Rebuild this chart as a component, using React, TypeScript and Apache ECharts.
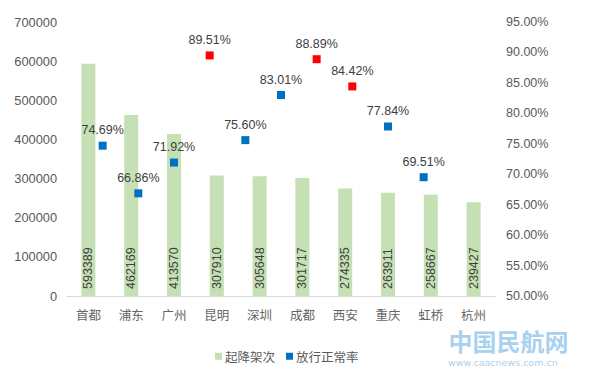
import React, { useEffect, useRef } from "react";
import * as echarts from "echarts";

const categories = ["首都", "浦东", "广州", "昆明", "深圳", "成都", "西安", "重庆", "虹桥", "杭州"];
const flights = [593389, 462169, 413570, 307910, 305648, 301717, 274335, 263911, 258667, 239427];
const punctuality = [74.69, 66.86, 71.92, 89.51, 75.6, 83.01, 88.89, 84.42, 77.84, 69.51];
const highlighted = [false, false, false, true, false, false, true, true, false, false];

const FONT = "'Liberation Sans', Arial, 'Noto Sans CJK SC', sans-serif";
const CJK = "'Noto Sans CJK SC', 'Liberation Sans', sans-serif";

export default function App() {
  const ref = useRef<HTMLDivElement>(null);
  useEffect(() => {
    document.body.style.margin = "0";
    const chart = echarts.init(ref.current!, null, { renderer: "svg" });
    chart.setOption({
      animation: false,
      backgroundColor: "#ffffff",
      grid: { left: 67, right: 95, top: 22, bottom: 77 },
      legend: {
        left: 210,
        top: 345,
        itemWidth: 7,
        itemHeight: 7,
        itemGap: 11,
        textStyle: { fontFamily: CJK, fontSize: 12.5, color: "#595959", padding: [0, 0, 0, -2] },
        data: [
          { name: "起降架次", icon: "rect", itemStyle: { color: "#c5e0b4" } },
          { name: "放行正常率", icon: "rect", itemStyle: { color: "#0070c0" } },
        ],
      },
      xAxis: [
        {
          type: "category",
          data: categories,
          axisLine: { lineStyle: { color: "#d9d9d9" } },
          axisTick: { show: false },
          axisLabel: { color: "#666666", fontFamily: CJK, fontSize: 12.5, margin: 12 },
        },
        {
          type: "value",
          min: 0,
          max: 12,
          show: false,
        },
      ],
      yAxis: [
        {
          type: "value",
          min: 0,
          max: 700000,
          interval: 100000,
          splitLine: { show: false },
          axisLine: { show: false },
          axisTick: { show: false },
          axisLabel: {
            color: "#595959",
            fontFamily: FONT,
            fontSize: 12.8,
            margin: 10,
            formatter: (v: number) => String(v),
          },
        },
        {
          type: "value",
          min: 50,
          max: 95,
          interval: 5,
          splitLine: { show: false },
          axisLine: { show: false },
          axisTick: { show: false },
          axisLabel: {
            color: "#595959",
            fontFamily: FONT,
            fontSize: 12.5,
            margin: 11,
            formatter: (v: number) => v.toFixed(2) + "%",
          },
        },
      ],
      series: [
        {
          name: "起降架次",
          type: "bar",
          xAxisIndex: 0,
          yAxisIndex: 0,
          barWidth: 14,
          data: flights,
          itemStyle: { color: "#c5e0b4" },
          label: {
            show: true,
            position: "insideBottom",
            rotate: 90,
            align: "left",
            verticalAlign: "middle",
            distance: 7,
            color: "#404040",
            fontFamily: FONT,
            fontSize: 12.5,
          },
        },
        {
          name: "放行正常率",
          type: "scatter",
          xAxisIndex: 1,
          yAxisIndex: 1,
          symbol: "rect",
          symbolSize: 8,
          itemStyle: { color: "#0070c0", opacity: 1 },
          data: punctuality.map((v, i) => ({
            value: [i + 1, v],
            itemStyle: { color: highlighted[i] ? "#ff0000" : "#0070c0", opacity: 1 },
          })),
          label: {
            show: true,
            position: "top",
            distance: 5,
            color: "#404040",
            fontFamily: FONT,
            fontSize: 12.5,
            formatter: (p: any) => p.value[1].toFixed(2) + "%",
          },
        },
      ],
      graphic: [
        {
          type: "text",
          left: 448,
          top: 328,
          z: -1,
          style: {
            text: "中国民航网",
            font: "bold 24px 'Noto Sans CJK SC', sans-serif",
            fill: "#8cc2ec",
            stroke: "#ffffff",
            lineWidth: 1,
            opacity: 0.75,
          },
        },
        {
          type: "text",
          left: 448,
          top: 357,
          style: {
            text: "www.caacnews.com.cn",
            font: "9.5px 'DejaVu Sans', sans-serif",
            fill: "#9cc6e6",
            opacity: 0.85,
          },
        },
      ],
    });
    return () => chart.dispose();
  }, []);
  return <div ref={ref} style={{ width: 590, height: 373 }} />;
}
